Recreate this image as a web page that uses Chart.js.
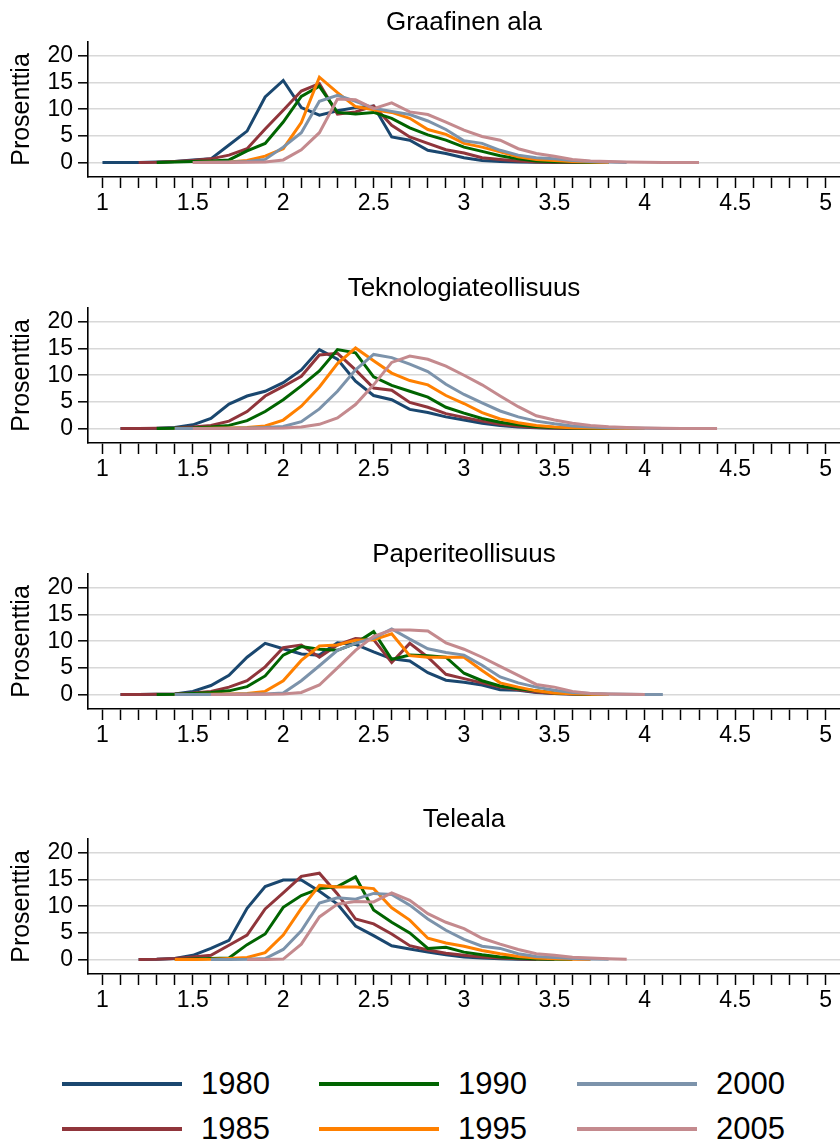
<!DOCTYPE html>
<html>
<head>
<meta charset="utf-8">
<script src="https://cdn.jsdelivr.net/npm/chart.js@4/dist/chart.umd.min.js"></script>
<style>
  html, body { margin: 0; padding: 0; background: #fff; }
  body { width: 840px; height: 1146px; position: relative; overflow: hidden; font-family: "Liberation Sans", Arial, sans-serif; }
  .panel { position: absolute; left: 0; width: 840px; height: 266px; }
  .leg-line { position: absolute; width: 120px; height: 4px; }
  .leg-text { position: absolute; font-size: 31px; line-height: 40px; height: 40px; color: #000; }
</style>
</head>
<body>
<div class="panel" style="top:0px"><canvas id="c0" width="840" height="266"></canvas></div>
<div class="panel" style="top:266px"><canvas id="c1" width="840" height="266"></canvas></div>
<div class="panel" style="top:532px"><canvas id="c2" width="840" height="266"></canvas></div>
<div class="panel" style="top:797px"><canvas id="c3" width="840" height="266"></canvas></div>
<div id="legend"></div>
<script>
// ---------- DATA ----------
const xValues = [1.0,1.1,1.2,1.3,1.4,1.5,1.6,1.7,1.8,1.9,2.0,2.1,2.2,2.3,2.4,2.5,2.6,2.7,2.8,2.9,3.0,3.1,3.2,3.3,3.4,3.5,3.6,3.7,3.8,3.9,4.0,4.1,4.2,4.3,4.4];
const years = ['1980','1985','1990','1995','2000','2005'];
const panelTitles = ['Graafinen ala','Teknologiateollisuus','Paperiteollisuus','Teleala'];
const yTickValues = [0,5,10,15,20];
const xTickLabels = ['1','1.5','2','2.5','3','3.5','4','4.5','5'];
const yAxisTitle = 'Prosenttia';

// Graafinen ala
const graaf1980 = [0,0,0,0.1,0.2,0.5,0.7,3.3,5.9,12.3,15.4,10.3,8.9,9.7,10.3,10.6,4.8,4.2,2.3,1.7,0.9,0.4,0.2,0.1,0.05,0,0,0];
const graaf1985 = [null,null,0,0.05,0.2,0.4,0.7,1.4,2.6,6.3,9.8,13.4,14.8,9.1,9.5,10.6,7.0,4.8,3.6,2.4,1.8,0.9,0.6,0.3,0.1,0.05,0,0];
const graaf1990 = [null,null,null,0,0.1,0.2,0.3,0.5,2.2,3.6,7.6,12.4,14.3,9.4,9.1,9.4,8.3,6.5,5.2,4.2,2.9,2.1,1.3,0.7,0.3,0.15,0.1,0,0];
const graaf1995 = [null,null,null,null,null,0,0.05,0.1,0.4,1.2,2.6,7.5,16.0,13.1,10.5,9.9,9.4,8.3,6.2,5.3,3.6,2.9,2.0,1.1,0.6,0.4,0.2,0.1,0];
const graaf2000 = [null,null,null,null,null,0,0.05,0.1,0.2,0.6,2.9,5.6,11.5,12.6,11.5,10.2,9.6,9.0,7.8,6.2,4.1,3.6,2.3,1.4,0.9,0.7,0.4,0.2,0.1,0];
const graaf2005 = [null,null,null,null,null,0,0,0,0.05,0.1,0.5,2.4,5.6,11.9,11.8,10.1,11.2,9.5,9.0,7.6,6.1,4.9,4.2,2.6,1.7,1.2,0.6,0.3,0.2,0.1,0.05,0,0,0];

// Teknologiateollisuus
const tekno1980 = [null,0,0,0.05,0.2,0.7,1.9,4.6,6.1,7.0,8.6,11.0,14.8,13.0,8.9,6.2,5.4,3.6,3.0,2.2,1.6,1.0,0.6,0.3,0.15,0.05,0,0,0];
const tekno1985 = [null,0,0,0.05,0.1,0.3,0.6,1.4,3.2,6.1,7.9,9.8,13.8,14.1,11.0,7.6,7.2,4.9,4.0,2.8,2.1,1.4,0.8,0.45,0.2,0.1,0.05,0,0];
const tekno1990 = [null,null,null,0,0.05,0.1,0.3,0.6,1.5,3.2,5.4,8.0,10.8,14.8,14.2,9.7,8.1,7.0,5.9,4.0,2.9,1.9,1.2,0.7,0.35,0.2,0.1,0.05,0,0];
const tekno1995 = [null,null,null,null,0,0,0.05,0.1,0.2,0.5,1.6,4.2,7.8,12.2,15.1,12.7,10.4,9.0,8.2,6.2,4.7,3.0,1.8,1.1,0.6,0.3,0.15,0.1,0.05,0,0];
const tekno2000 = [null,null,null,null,0,0,0,0.05,0.1,0.2,0.4,1.3,3.7,7.0,11.0,13.9,13.3,12.1,10.7,8.3,6.4,4.8,3.3,2.2,1.4,0.9,0.5,0.3,0.15,0.1,0.05,0,0];
const tekno2005 = [null,null,null,null,null,0,0,0,0,0.05,0.1,0.3,0.8,2.0,4.5,8.2,12.4,13.6,13.0,11.7,10.0,8.2,6.1,4.1,2.4,1.6,1.0,0.6,0.35,0.2,0.1,0.05,0,0,0];

// Paperiteollisuus
const paperi1980 = [null,0,0,0.05,0.1,0.6,1.7,3.6,7.0,9.6,8.6,7.6,7.4,9.7,9.4,8.0,6.7,6.3,4.1,2.7,2.3,1.8,0.9,0.8,0.4,0.2,0.1,0];
const paperi1985 = [null,0,0,0.05,0.1,0.3,0.6,1.4,2.6,5.2,8.8,9.3,7.0,9.3,10.5,10.3,6.0,9.6,7.0,3.8,3.0,2.2,1.4,0.9,0.5,0.2,0.1,0];
const paperi1990 = [null,null,null,0,0.05,0.2,0.4,0.7,1.5,3.5,7.4,9.0,8.5,8.3,9.6,11.8,6.6,7.4,7.3,7.0,4.0,2.6,1.6,1.1,0.7,0.3,0.15,0.05,0];
const paperi1995 = [null,null,null,null,0,0,0.05,0.1,0.2,0.6,2.6,6.4,9.1,9.3,10.2,10.3,11.4,7.3,7.0,7.0,7.0,4.5,2.2,1.4,0.7,0.3,0.15,0.05,0];
const paperi2000 = [null,null,null,null,0,0,0,0.05,0.1,0.1,0.3,2.6,5.4,8.3,9.6,10.6,12.3,10.4,8.6,7.9,7.4,5.5,3.3,2.2,1.4,0.8,0.4,0.2,0.1,0.05,0,0];
const paperi2005 = [null,null,null,null,null,null,0,0,0,0.05,0.1,0.4,1.8,5.0,8.3,10.9,12.1,12.1,11.9,9.7,8.5,7.0,5.3,3.6,1.9,1.4,0.6,0.2,0.1,0.05,0];

// Teleala
const tele1980 = [null,null,0,0.05,0.2,0.8,2.1,3.6,9.6,13.7,14.9,14.9,12.8,10.4,6.3,4.5,2.6,2.0,1.4,0.9,0.5,0.3,0.15,0.05,0];
const tele1985 = [null,null,0,0.05,0.2,0.5,0.8,2.7,4.6,9.5,12.5,15.6,16.2,12.3,7.6,6.7,4.8,2.6,1.8,1.2,0.8,0.5,0.3,0.15,0.05,0];
const tele1990 = [null,null,null,null,0,0.1,0.2,0.3,2.8,4.8,9.8,12.0,13.3,13.7,15.5,9.3,7.0,5.0,2.1,2.3,1.4,0.9,0.5,0.3,0.1,0.05,0];
const tele1995 = [null,null,null,null,0,0,0.05,0.2,0.4,1.3,4.6,9.6,13.9,13.6,13.6,13.3,9.7,7.4,4.0,3.1,2.5,1.7,1.1,0.6,0.3,0.15,0.05,0];
const tele2000 = [null,null,null,null,null,null,0,0,0.05,0.2,1.9,5.4,10.6,11.6,11.3,12.4,12.2,10.2,7.6,5.5,3.8,2.5,2.1,1.1,0.6,0.4,0.2,0.1,0.05];
const tele2005 = [null,null,null,null,null,null,null,null,0,0,0.1,2.9,8.0,10.4,10.9,10.8,12.5,11.1,8.6,7.0,5.8,4.0,2.9,1.9,1.1,0.8,0.45,0.3,0.15,0.05];

const panelSeries = [
  [graaf1980, graaf1985, graaf1990, graaf1995, graaf2000, graaf2005],
  [tekno1980, tekno1985, tekno1990, tekno1995, tekno2000, tekno2005],
  [paperi1980, paperi1985, paperi1990, paperi1995, paperi2000, paperi2005],
  [tele1980, tele1985, tele1990, tele1995, tele2000, tele2005]
];

// ---------- STYLE ----------
const colors = ['#1a476f', '#90353b', '#006400', '#ff8000', '#7c93ab', '#c48a8e'];
const FONT = '"Liberation Sans", Arial, Helvetica, sans-serif';

const panelTitlePlugin = {
  id: 'panelTitle',
  afterDraw(chart, args, opts) {
    const { ctx, chartArea } = chart;
    ctx.save();
    ctx.font = '26px ' + FONT;
    ctx.fillStyle = '#000';
    ctx.textAlign = 'center';
    ctx.textBaseline = 'alphabetic';
    ctx.fillText(opts.text, (chartArea.left + chartArea.right) / 2, 29.5);
    ctx.restore();
  }
};

function makeChart(idx) {
  const series = panelSeries[idx];
  const datasets = series.map((arr, i) => ({
    label: years[i],
    data: arr.map((v, j) => ({ x: xValues[j], y: v })),
    borderColor: colors[i],
    backgroundColor: colors[i],
    borderWidth: 3,
    pointRadius: 0,
    pointHoverRadius: 0,
    tension: 0,
    fill: false,
    spanGaps: false,
    order: series.length - i
  }));
  const xMinor = [];
  for (let k = 10; k <= 50; k++) xMinor.push(k / 10);

  new Chart(document.getElementById('c' + idx), {
    type: 'line',
    data: { datasets },
    plugins: [panelTitlePlugin],
    options: {
      responsive: false,
      animation: false,
      devicePixelRatio: 1,
      layout: { padding: { top: 42, left: 0, right: 0, bottom: 0 } },
      plugins: {
        legend: { display: false },
        tooltip: { enabled: false },
        title: { display: false },
        panelTitle: { text: panelTitles[idx] }
      },
      scales: {
        x: {
          type: 'linear',
          min: 0.92,
          max: 5.08,
          afterBuildTicks(scale) { scale.ticks = xMinor.map(v => ({ value: v })); },
          afterFit(scale) {
            scale.height = 89;
            scale.paddingLeft = 0; scale.paddingRight = 0; scale.paddingTop = 0; scale.paddingBottom = 0;
          },
          ticks: {
            autoSkip: false,
            maxRotation: 0,
            minRotation: 0,
            padding: 2,
            color: '#000',
            font: { family: FONT, size: 23 },
            callback(value) {
              const h = Math.round(value * 2);
              if (Math.abs(value * 2 - h) < 1e-6) return xTickLabels[h - 2];
              return '';
            }
          },
          grid: {
            display: true,
            drawOnChartArea: false,
            drawTicks: true,
            tickLength: 11,
            tickColor: '#000',
            tickWidth: 1.5,
            color: '#000'
          },
          border: { display: true, color: '#000', width: 1.6 }
        },
        y: {
          type: 'linear',
          min: -2.7,
          max: 22.6,
          afterBuildTicks(scale) { scale.ticks = yTickValues.map(v => ({ value: v })); },
          afterFit(scale) {
            scale.width = 88;
            scale.paddingLeft = 0; scale.paddingRight = 0; scale.paddingTop = 0; scale.paddingBottom = 0;
          },
          ticks: {
            padding: 5,
            color: '#000',
            font: { family: FONT, size: 23 },
            callback(value) { return String(value); }
          },
          title: {
            display: true,
            text: yAxisTitle,
            color: '#000',
            font: { family: FONT, size: 25 },
            padding: { top: 7, bottom: 0 }
          },
          grid: {
            display: true,
            drawOnChartArea: true,
            drawTicks: true,
            tickLength: 10,
            tickColor: '#000',
            tickWidth: 1.5,
            color: '#d8d8d8',
            lineWidth: 1.6
          },
          border: { display: true, color: '#000', width: 1.6 }
        }
      }
    }
  });
}

for (let p = 0; p < 4; p++) makeChart(p);

// ---------- LEGEND ----------
const legend = document.getElementById('legend');
const legCols = [62, 319, 577];
const legRows = [1084, 1129];
years.forEach((y, i) => {
  const col = Math.floor(i / 2), row = i % 2;
  const line = document.createElement('div');
  line.className = 'leg-line';
  line.style.left = legCols[col] + 'px';
  line.style.top = (legRows[row] - 2) + 'px';
  line.style.background = colors[i];
  legend.appendChild(line);
  const t = document.createElement('div');
  t.className = 'leg-text';
  t.style.left = (legCols[col] + 139) + 'px';
  t.style.top = (legRows[row] - 20) + 'px';
  t.textContent = y;
  legend.appendChild(t);
});
</script>
</body>
</html>
